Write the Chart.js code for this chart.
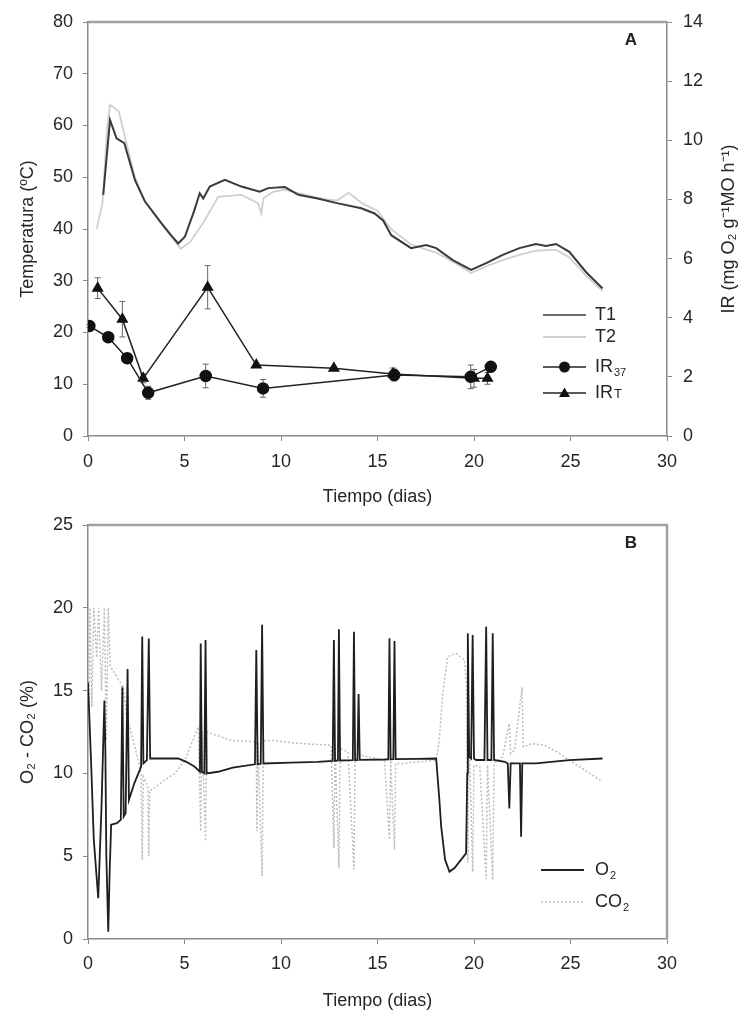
<!DOCTYPE html>
<html>
<head>
<meta charset="utf-8">
<script src="https://cdn.jsdelivr.net/npm/chart.js@4.4.1/dist/chart.umd.min.js"></script>
<style>
  body { margin: 0; background: #fff; }
  canvas { position: absolute; left: 0; }
  #chartA { top: 0; }
  #chartB { top: 510px; }
</style>
</head>
<body>
<canvas id="chartA" width="746" height="510"></canvas>
<canvas id="chartB" width="746" height="507"></canvas>
<script>
// --- panel A: temperature (left axis) and respiration index (right axis)
const t1Days = [0.79, 1.14, 1.48, 1.88, 2.43, 2.95, 3.81, 4.3, 4.67, 5.02, 5.5, 5.79, 5.97, 6.31, 7.09, 7.95, 8.9, 9.33, 10.2, 10.9, 11.9, 12.9, 14.16, 14.85, 15.3, 15.71, 16.74, 17.52, 18.04, 18.9, 19.85, 20.63, 21.49, 22.35, 23.21, 23.73, 24.25, 24.94, 25.8, 26.66];
const t1Temp = [46.6, 61.1, 57.5, 56.6, 49.5, 45.3, 41.1, 38.8, 37.2, 38.5, 43.5, 46.9, 45.9, 48.2, 49.5, 48.2, 47.2, 47.9, 48.1, 46.6, 45.9, 45.0, 44.0, 43.0, 41.6, 38.8, 36.3, 36.9, 36.3, 34.0, 32.1, 33.4, 35.0, 36.3, 37.1, 36.7, 37.1, 35.6, 31.7, 28.5];

const t2Days = [0.45, 0.75, 1.0, 1.14, 1.6, 1.9, 2.43, 2.95, 3.8, 4.8, 5.3, 6.05, 6.74, 7.95, 8.8, 8.98, 9.1, 9.6, 10.2, 11.9, 12.9, 13.5, 14.2, 15.0, 15.7, 16.74, 18.0, 19.0, 19.85, 20.63, 21.49, 22.35, 23.21, 24.25, 24.94, 25.8, 26.66];
const t2Temp = [40, 45, 60, 64, 62.7, 58, 50, 45.5, 41, 36.2, 37.5, 41.7, 46.2, 46.6, 45.0, 43, 46, 47.2, 47.6, 46, 45.5, 47, 45, 43.5, 40, 37, 35.5, 33.5, 31.5, 32.8, 34, 35, 35.8, 36, 34.5, 31, 28];

const ir37Days = [0.07, 1.05, 2.03, 3.12, 6.1, 9.07, 15.87, 19.83, 20.87];
const ir37Vals = [3.72, 3.34, 2.63, 1.46, 2.03, 1.61, 2.06, 2.0, 2.34];
const ir37Err  = [0.05, 0.1, 0.1, 0.22, 0.4, 0.3, 0.2, 0.4, 0.1];

const irtDays = [0.5, 1.78, 2.86, 6.2, 8.72, 12.74, 15.8, 20.0, 20.7];
const irtVals = [5.0, 3.95, 1.95, 5.03, 2.4, 2.29, 2.1, 1.95, 1.95];
const irtErr  = [0.35, 0.6, 0.15, 0.73, 0.05, 0.05, 0.2, 0.3, 0.2];

// --- panel B: O2 and CO2 concentration
const o2Days = [0, 0.15, 0.3, 0.53, 0.7, 0.85, 0.9, 0.95, 1.05, 1.12, 1.2, 1.5, 1.7, 1.78, 1.85, 1.95, 2.05, 2.12, 2.4, 2.75, 2.81, 2.87, 3.05, 3.15, 3.22, 3.5, 4.67, 5.1, 5.53, 5.8, 5.84, 5.9, 6.03, 6.09, 6.15, 6.74, 7.5, 8.65, 8.72, 8.79, 8.95, 9.02, 9.09, 10.5, 11.9, 12.68, 12.74, 12.8, 12.95, 13.0, 13.06, 13.72, 13.78, 13.84, 13.96, 14.02, 14.08, 15.36, 15.56, 15.62, 15.68, 15.82, 15.88, 15.94, 17.0, 18.04, 18.2, 18.3, 18.5, 18.73, 19.0, 19.24, 19.59, 19.65, 19.68, 19.75, 19.85, 19.93, 20.0, 20.11, 20.54, 20.63, 20.7, 20.9, 20.97, 21.04, 21.6, 21.75, 21.83, 21.9, 22.38, 22.44, 22.5, 23.21, 24.93, 26.66];
const o2Vals = [15.5, 11, 6, 2.46, 8, 14.4, 11.4, 5, 0.44, 4, 6.9, 7.0, 7.2, 15.2, 7.4, 7.6, 16.3, 8.4, 9.4, 10.4, 18.26, 10.6, 10.8, 18.15, 10.9, 10.9, 10.9, 10.7, 10.4, 10.1, 17.85, 10.1, 10.0, 18.05, 10.0, 10.1, 10.35, 10.55, 17.45, 10.56, 10.58, 18.97, 10.6, 10.65, 10.7, 10.75, 18.05, 10.75, 10.78, 18.7, 10.78, 10.8, 18.55, 10.8, 10.8, 14.8, 10.82, 10.84, 10.85, 18.16, 10.85, 10.86, 18.0, 10.86, 10.88, 10.9, 8.5, 6.78, 4.8, 4.06, 4.3, 4.66, 5.17, 10, 18.46, 11, 10.9, 18.36, 10.9, 10.81, 10.81, 18.86, 10.81, 10.81, 18.46, 10.81, 10.7, 10.6, 7.88, 10.6, 10.6, 6.17, 10.6, 10.6, 10.8, 10.9];

const co2Days = [0, 0.1, 0.2, 0.3, 0.45, 0.55, 0.7, 0.85, 0.95, 1.05, 1.15, 1.48, 1.74, 1.78, 1.82, 2.0, 2.43, 2.75, 2.81, 2.87, 3.1, 3.15, 3.2, 3.29, 3.98, 4.5, 5.02, 5.71, 5.84, 5.9, 6.09, 6.15, 6.4, 7.43, 8.72, 8.75, 8.8, 9.02, 9.09, 9.5, 10.2, 11.05, 12.6, 12.74, 12.8, 13.0, 13.06, 13.47, 13.78, 13.84, 14.5, 15.36, 15.62, 15.68, 15.88, 15.94, 16.3, 18.04, 18.2, 18.38, 18.64, 19.07, 19.5, 19.6, 19.68, 19.75, 19.93, 20.0, 20.3, 20.63, 20.7, 20.97, 21.04, 21.3, 21.48, 21.83, 21.9, 22.1, 22.49, 22.55, 23.0, 23.66, 24.3, 25.2, 26.66];
const co2Vals = [8, 20, 14, 20, 17, 20, 15, 20, 12, 20, 16.5, 15.84, 15.4, 9, 15.3, 13.5, 11.6, 10.0, 4.77, 9.8, 9.2, 5.0, 9.0, 9.0, 9.6, 10.0, 10.8, 12.8, 6.5, 12.6, 5.9, 12.5, 12.4, 12.0, 11.9, 6.5, 11.9, 3.8, 11.95, 12.0, 11.9, 11.8, 11.7, 5.5, 11.6, 4.3, 11.5, 11.3, 4.2, 11.2, 11.0, 10.8, 6, 10.8, 5.4, 10.6, 10.6, 10.8, 12.0, 14.8, 17.05, 17.25, 16.85, 15.5, 4.6, 12, 4.06, 10.5, 10.4, 3.6, 10.5, 3.56, 10.6, 10.8, 11.0, 13.0, 11.2, 11.4, 15.2, 11.6, 11.8, 11.7, 11.3, 10.6, 9.5];

const fontFam = '"Liberation Sans", Arial, sans-serif';
const txtSize = 18;
Chart.defaults.font.family = fontFam;
Chart.defaults.font.size = txtSize;
Chart.defaults.color = '#262626';
Chart.defaults.animation = false;

function pts(xs, ys) {
  return xs.map((x, i) => ({ x: x, y: ys[i] }));
}

const axisGrey = '#8a8a8a';

// fixed axis thickness, no extra room for end labels (layout padding handles it)
function fixWidth(w) {
  return s => { s.width = w; s.paddingTop = 0; s.paddingBottom = 0; };
}

function xAxis(height, tickPad, titlePad) {
  return {
    type: 'linear', min: 0, max: 30,
    ticks: { stepSize: 5, padding: tickPad },
    grid: { drawOnChartArea: false, tickLength: 5, color: axisGrey },
    border: { color: axisGrey, width: 1.5 },
    title: { display: true, text: 'Tiempo (dias)', padding: { top: 0, bottom: titlePad } },
    afterFit: s => { s.height = height; s.paddingLeft = 0; s.paddingRight = 0; }
  };
}

// vertical error bars with small caps, read from dataset.errorBars
const errorBarPlugin = {
  id: 'errorBars',
  beforeDatasetsDraw(chart) {
    const ctx = chart.ctx;
    ctx.save();
    ctx.strokeStyle = '#666';
    ctx.lineWidth = 1;
    chart.data.datasets.forEach(ds => {
      if (!ds.errorBars) return;
      const ys = chart.scales[ds.yAxisID];
      const xs = chart.scales.x;
      ds.data.forEach((p, i) => {
        const e = ds.errorBars[i];
        const px = xs.getPixelForValue(p.x);
        const top = ys.getPixelForValue(p.y + e);
        const bot = ys.getPixelForValue(p.y - e);
        ctx.beginPath();
        ctx.moveTo(px, top); ctx.lineTo(px, bot);
        ctx.moveTo(px - 3, top); ctx.lineTo(px + 3, top);
        ctx.moveTo(px - 3, bot); ctx.lineTo(px + 3, bot);
        ctx.stroke();
      });
    });
    ctx.restore();
  }
};

// legend rows: line sample, optional marker, label with optional subscript
function drawLegend(ctx, items, x0, textX) {
  items.forEach(it => {
    ctx.save();
    ctx.strokeStyle = it.color;
    ctx.lineWidth = it.width;
    ctx.setLineDash(it.dash || []);
    ctx.beginPath();
    ctx.moveTo(x0, it.y); ctx.lineTo(x0 + 43, it.y);
    ctx.stroke();
    ctx.setLineDash([]);
    ctx.fillStyle = '#111';
    const mx = x0 + 21.5;
    if (it.marker === 'circle') {
      ctx.beginPath(); ctx.arc(mx, it.y, 5.5, 0, Math.PI * 2); ctx.fill();
    } else if (it.marker === 'triangle') {
      ctx.beginPath();
      ctx.moveTo(mx, it.y - 5.5); ctx.lineTo(mx + 5.5, it.y + 4); ctx.lineTo(mx - 5.5, it.y + 4);
      ctx.closePath(); ctx.fill();
    }
    ctx.fillStyle = '#262626';
    ctx.textBaseline = 'middle';
    ctx.font = txtSize + 'px ' + fontFam;
    ctx.fillText(it.label, textX, it.y);
    if (it.sub) {
      const w = ctx.measureText(it.label).width;
      ctx.font = (it.subSize || 11) + 'px ' + fontFam;
      ctx.fillText(it.sub, textX + w + 1, it.y + (it.subShift || 6));
    }
    ctx.restore();
  });
}

// right axis title reads bottom-to-top, like the left one
function drawRightTitle(chart) {
  const ctx = chart.ctx, a = chart.chartArea;
  ctx.save();
  ctx.translate(729, (a.top + a.bottom) / 2);
  ctx.rotate(-Math.PI / 2);
  ctx.fillStyle = '#262626';
  ctx.font = txtSize + 'px ' + fontFam;
  ctx.textAlign = 'center';
  ctx.textBaseline = 'middle';
  ctx.fillText('IR (mg O₂ g⁻¹MO h⁻¹)', 0, 0);
  ctx.restore();
}

const decorA = {
  id: 'decorA',
  afterDraw(chart) {
    const ctx = chart.ctx, a = chart.chartArea;
    ctx.save();
    ctx.strokeStyle = '#a0a0a0';
    ctx.lineWidth = 2.5;
    ctx.beginPath(); ctx.moveTo(a.left, a.top); ctx.lineTo(a.right, a.top); ctx.stroke();
    ctx.fillStyle = '#222';
    ctx.font = 'bold 17px ' + fontFam;
    ctx.textAlign = 'center'; ctx.textBaseline = 'middle';
    ctx.fillText('A', 631, 40);
    ctx.restore();
    drawRightTitle(chart);
    drawLegend(ctx, [
      { y: 315, color: '#3a3a3a', width: 1.5, label: 'T1' },
      { y: 337, color: '#cfcfcf', width: 2, label: 'T2' },
      { y: 367, color: '#222', width: 1.5, label: 'IR', sub: '37', marker: 'circle' },
      { y: 393, color: '#222', width: 1.5, label: 'IR', sub: 'T', subSize: 13, subShift: 1, marker: 'triangle' }
    ], 543, 595);
  }
};

const decorB = {
  id: 'decorB',
  afterDraw(chart) {
    const ctx = chart.ctx, a = chart.chartArea;
    ctx.save();
    ctx.strokeStyle = '#a0a0a0';
    ctx.lineWidth = 2.5;
    ctx.beginPath();
    ctx.moveTo(a.left, a.top); ctx.lineTo(a.right, a.top); ctx.lineTo(a.right, a.bottom);
    ctx.stroke();
    ctx.fillStyle = '#222';
    ctx.font = 'bold 17px ' + fontFam;
    ctx.textAlign = 'center'; ctx.textBaseline = 'middle';
    ctx.fillText('B', 631, 33);
    ctx.restore();
    drawLegend(ctx, [
      { y: 360, color: '#222', width: 2, label: 'O', sub: '2' },
      { y: 392, color: '#c4c4c4', width: 1.5, dash: [2, 2], label: 'CO', sub: '2' }
    ], 541, 595);
  }
};

new Chart(document.getElementById('chartA'), {
  type: 'scatter',
  data: {
    datasets: [
      { label: 'T1', data: pts(t1Days, t1Temp), yAxisID: 'y', showLine: true, borderColor: '#3a3a3a', borderWidth: 2, pointRadius: 0, tension: 0 },
      { label: 'T2', data: pts(t2Days, t2Temp), yAxisID: 'y', showLine: true, borderColor: '#d0d0d0', borderWidth: 1.8, pointRadius: 0, tension: 0 },
      { label: 'IR37', data: pts(ir37Days, ir37Vals), errorBars: ir37Err, yAxisID: 'y2', showLine: true, borderColor: '#222', borderWidth: 1.5, pointStyle: 'circle', pointRadius: 5.5, pointBackgroundColor: '#111', pointBorderColor: '#111' },
      { label: 'IRT', data: pts(irtDays, irtVals), errorBars: irtErr, yAxisID: 'y2', showLine: true, borderColor: '#222', borderWidth: 1.5, pointStyle: 'triangle', pointRadius: 5.5, pointBackgroundColor: '#111', pointBorderColor: '#111' }
    ]
  },
  options: {
    responsive: false,
    layout: { padding: { top: 22, left: 0, right: 0, bottom: 0 } },
    plugins: { legend: { display: false }, tooltip: { enabled: false } },
    scales: {
      x: xAxis(74, 10, 2),
      y: {
        position: 'left', min: 0, max: 80,
        ticks: { stepSize: 10, padding: 10 },
        grid: { drawOnChartArea: false, tickLength: 5, color: axisGrey },
        border: { color: axisGrey, width: 1.5 },
        title: { display: true, text: 'Temperatura (ºC)', padding: { top: 17, bottom: 0 } },
        afterFit: fixWidth(88)
      },
      y2: {
        position: 'right', min: 0, max: 14,
        ticks: { stepSize: 2, padding: 11 },
        grid: { drawOnChartArea: false, tickLength: 5, color: axisGrey },
        border: { color: axisGrey, width: 1.5 },
        afterFit: fixWidth(79)
      }
    }
  },
  plugins: [errorBarPlugin, decorA]
});

new Chart(document.getElementById('chartB'), {
  type: 'scatter',
  data: {
    datasets: [
      { label: 'O2', data: pts(o2Days, o2Vals), showLine: true, borderColor: '#1e1e1e', borderWidth: 1.8, pointRadius: 0, tension: 0 },
      { label: 'CO2', data: pts(co2Days, co2Vals), showLine: true, borderColor: '#bdbdbd', borderWidth: 1.5, borderDash: [2, 2], pointRadius: 0, tension: 0 }
    ]
  },
  options: {
    responsive: false,
    layout: { padding: { top: 15, left: 0, right: 79, bottom: 0 } },
    plugins: { legend: { display: false }, tooltip: { enabled: false } },
    scales: {
      x: xAxis(78, 9, 5),
      y: {
        position: 'left', min: 0, max: 25,
        ticks: { stepSize: 5, padding: 10 },
        grid: { drawOnChartArea: false, tickLength: 5, color: axisGrey },
        border: { color: axisGrey, width: 1.5 },
        title: { display: true, text: 'O₂ - CO₂ (%)', padding: { top: 17, bottom: 0 } },
        afterFit: fixWidth(88)
      }
    }
  },
  plugins: [decorB]
});
</script>
</body>
</html>
